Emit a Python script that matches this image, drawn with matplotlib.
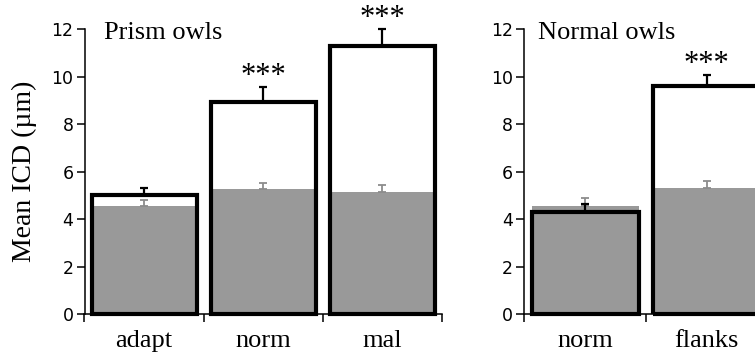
import matplotlib
matplotlib.use("Agg")
import matplotlib.pyplot as plt
import numpy as np

# ---- data ----
prism_cats = ["adapt", "norm", "mal"]
prism_black = [5.01, 8.93, 11.31]
prism_black_err = [0.32, 0.65, 0.69]
prism_gray = [4.57, 5.26, 5.15]
prism_gray_err = [0.24, 0.26, 0.29]
prism_stars = ["", "***", "***"]

normal_cats = ["norm", "flanks"]
normal_black = [4.29, 9.61]
normal_black_err = [0.35, 0.47]
normal_gray = [4.57, 5.30]
normal_gray_err = [0.34, 0.31]
normal_stars = ["", "***"]

yticks = [0, 2, 4, 6, 8, 10, 12]

GRAY = "#999999"
GRAY_ERR = "#8c8c8c"
SERIF = "Liberation Serif"
SANS = "DejaVu Sans"

W, H = 755, 356
fig = plt.figure(figsize=(W / 100, H / 100), dpi=100)


def panel(rect, cats, black, berr, gray, gerr, stars, title):
    ax = fig.add_axes(rect)
    n = len(cats)
    x = np.arange(n)
    bw = 0.88
    ax.bar(x, black, width=bw, color="white", edgecolor="none", zorder=1)
    ax.bar(x, gray, width=bw, color=GRAY, edgecolor="none", zorder=2)
    ax.errorbar(x, gray, yerr=[np.zeros(n), gerr], fmt="none", ecolor=GRAY_ERR,
                elinewidth=1.3, capsize=3, capthick=1.3, zorder=3, clip_on=False)
    ax.bar(x, black, width=bw, color="none", edgecolor="black", linewidth=3,
           zorder=4, clip_on=False)
    ax.errorbar(x, black, yerr=[np.zeros(n), berr], fmt="none", ecolor="black",
                elinewidth=1.6, capsize=3, capthick=1.6, zorder=5, clip_on=False)
    for xi, b, e, s in zip(x, black, berr, stars):
        if s:
            ax.annotate(s, xy=(xi, b + e), xytext=(0, -3), textcoords="offset points",
                        ha="center", va="bottom", fontsize=22, family=SERIF,
                        annotation_clip=False)
    ax.set_xlim(-0.5, n - 0.5)
    ax.set_ylim(0, 12)
    ax.set_yticks(yticks)
    ax.set_yticklabels([str(t) for t in yticks], family=SANS, fontsize=12.5)
    ax.set_xticks(np.arange(n + 1) - 0.5)
    ax.set_xticklabels([])
    ax.set_xticks(x, minor=True)
    ax.set_xticklabels(cats, minor=True, family=SERIF, fontsize=19)
    ax.tick_params(axis="x", which="minor", length=0, pad=11)
    ax.tick_params(axis="x", which="major", direction="out", length=6, width=1.1)
    ax.tick_params(axis="y", direction="out", length=6, width=1.1, pad=2)
    for sp in ["top", "right"]:
        ax.spines[sp].set_visible(False)
    for sp in ["left", "bottom"]:
        ax.spines[sp].set_linewidth(1.1)
    ax.text(0.055, 0.965, title, transform=ax.transAxes, ha="left", va="baseline",
            fontsize=19, family=SERIF)
    return ax


axL = panel([84.5 / W, 41.7 / H, 357.5 / W, 285 / H], prism_cats, prism_black, prism_black_err,
            prism_gray, prism_gray_err, prism_stars, "Prism owls")
axL.set_ylabel("Mean ICD (µm)", family=SERIF, fontsize=20)
axL.yaxis.set_label_coords(-0.133, 0.5)

axR = panel([524.3 / W, 41.7 / H, 243 / W, 285 / H], normal_cats, normal_black, normal_black_err,
            normal_gray, normal_gray_err, normal_stars, "Normal owls")

fig.savefig("out.png", dpi=100)
